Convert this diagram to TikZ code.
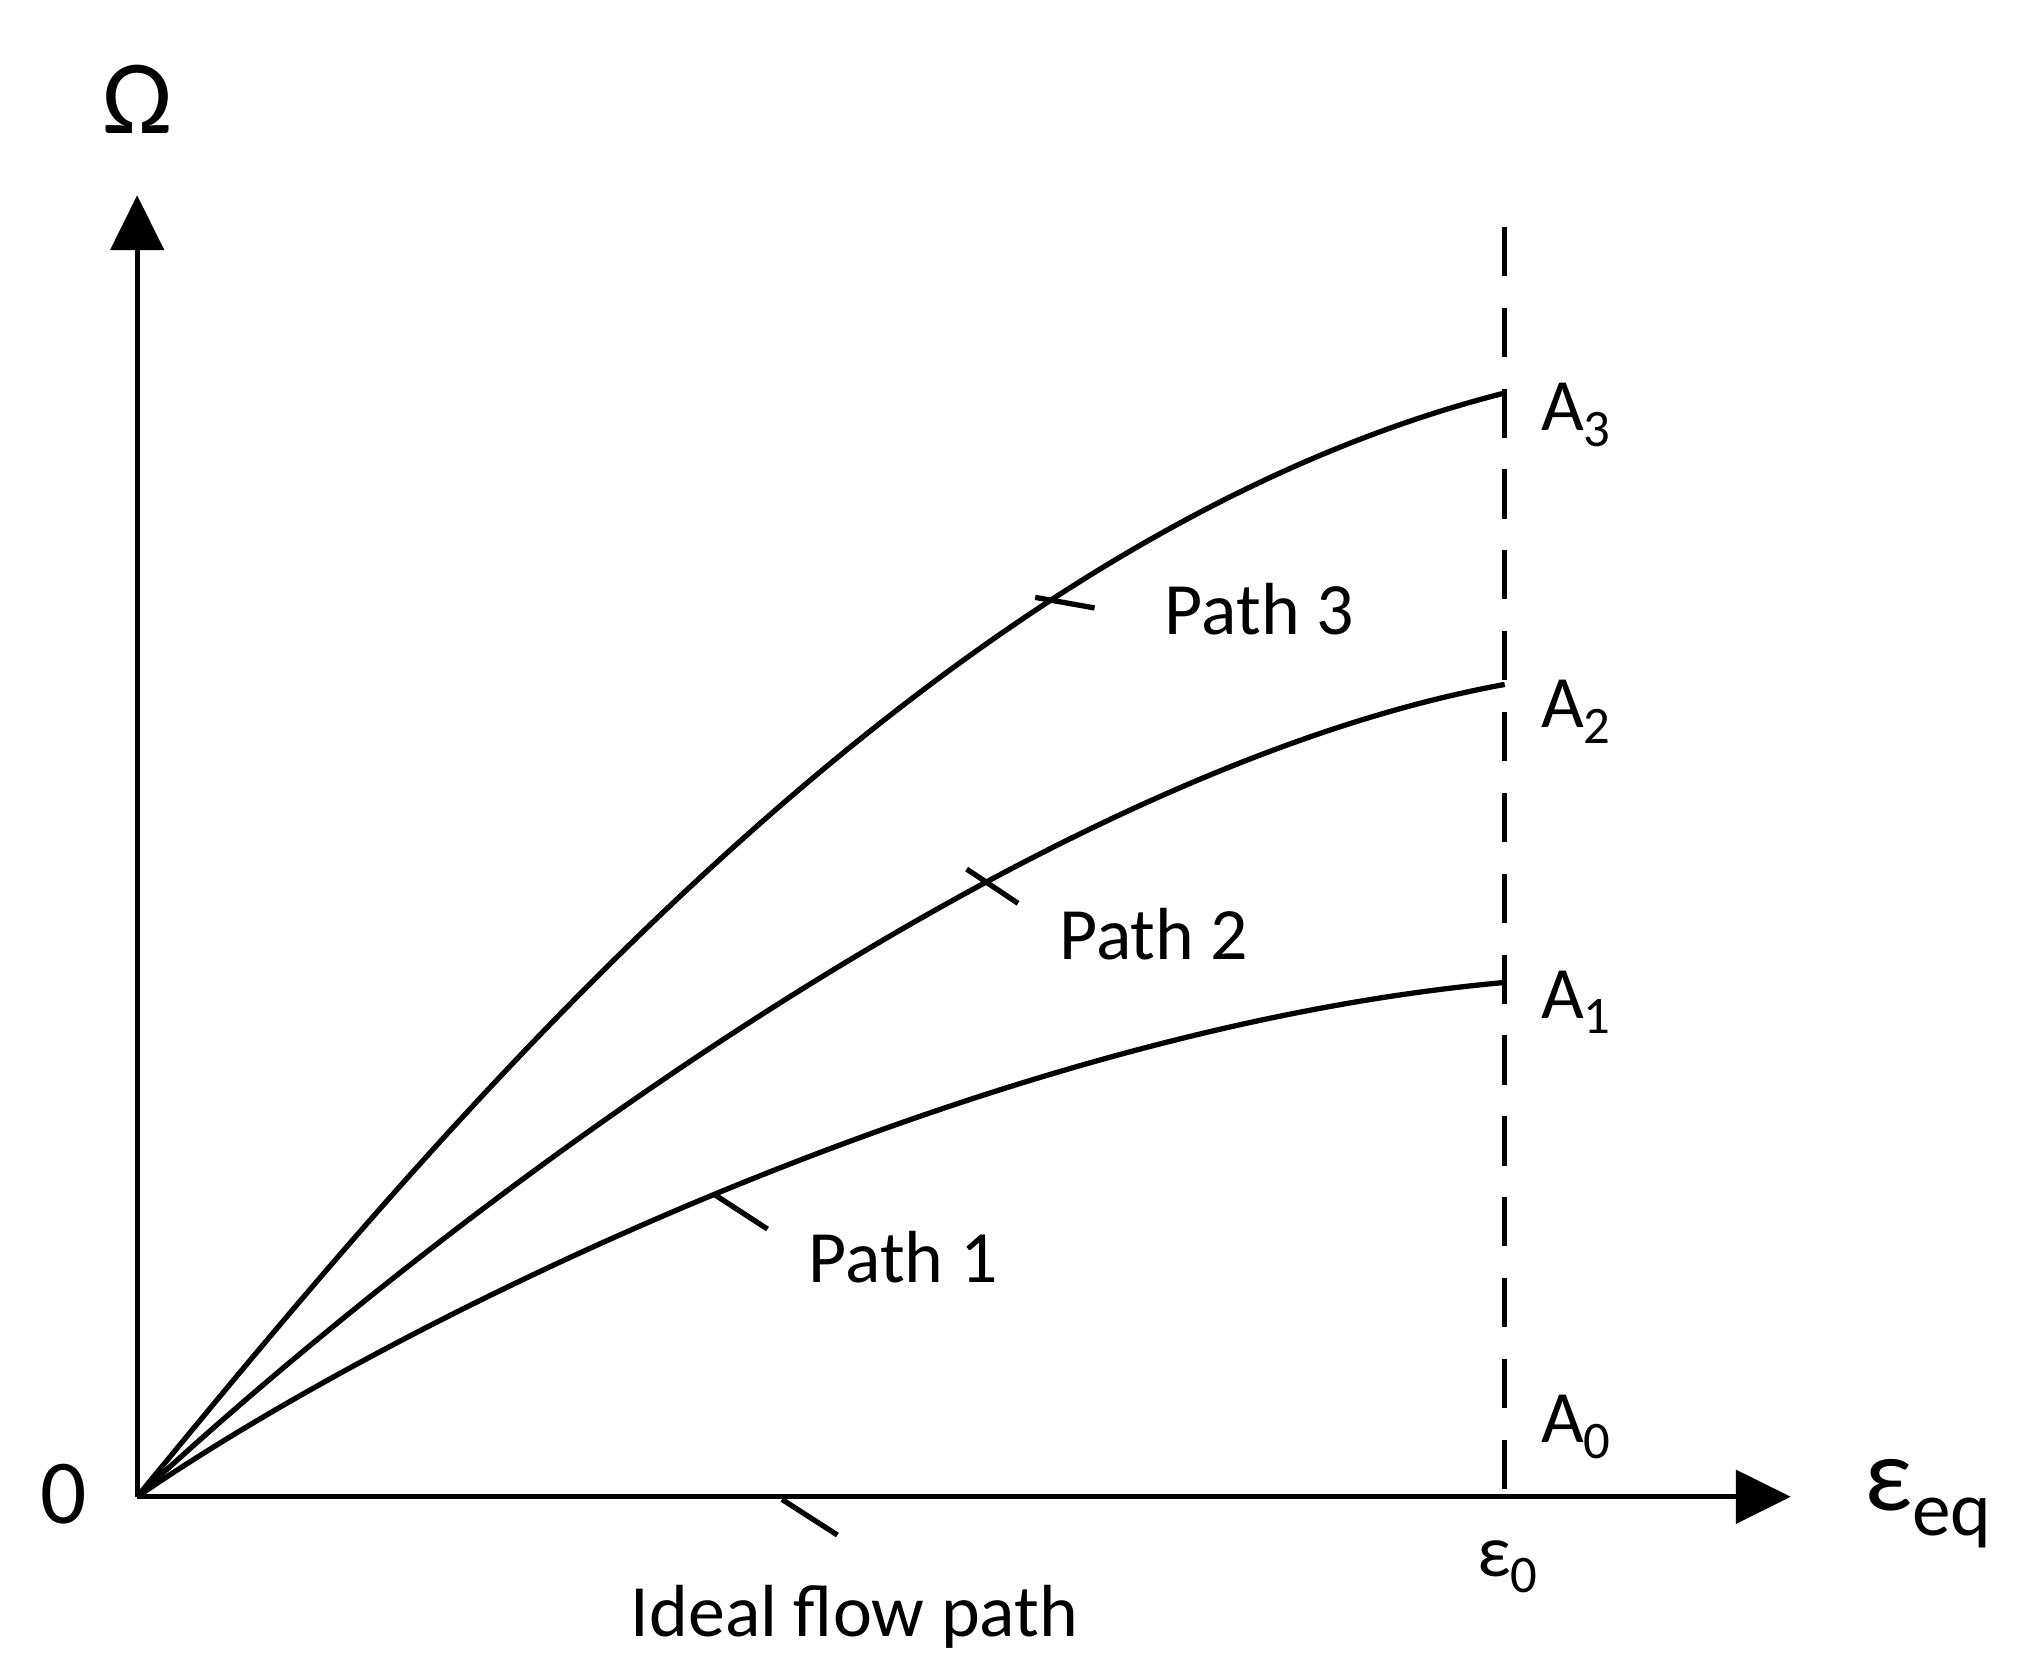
\documentclass[tikz,border=0pt]{standalone}
\usepackage{fontspec}
\setmainfont{Carlito}
\usetikzlibrary{arrows.meta,positioning}
\newcommand{\sub}[1]{\raisebox{-0.45ex}{\fontsize{15}{18}\selectfont #1}}
\begin{document}
\begin{tikzpicture}[x=0.01319cm,y=-0.01319cm,
    curve/.style={line width=1.5pt},
    axis/.style={line width=1.5pt,-{Triangle[length=0.55cm,width=0.53cm]}},
    lbl/.style={font=\fontsize{21}{25}\selectfont,inner sep=0pt}]
\useasboundingbox (0,0) rectangle (1550,1265);

\coordinate (O) at (104,1135);
\coordinate (ytop) at (104,148);
\coordinate (xend) at (1358,1135);
\coordinate (dtop) at (1141,172);
\coordinate (dbot) at (1141,1135);
\coordinate (A3) at (1141,298);
\coordinate (A2) at (1141,519);
\coordinate (A1) at (1141,745);

% axes
\draw[axis] (O) -- (ytop);
\draw[axis] (O) -- (xend);
\draw[line width=1.5pt,dash pattern=on 14pt off 9pt] (dtop) -- (dbot);

% paths
\draw[curve] (O) .. controls (330,860) and (700,410) .. (A3);
\draw[curve] (O) .. controls (330,925) and (780,585) .. (A2);
\draw[curve] (O) .. controls (300,1000) and (750,780) .. (A1);

% labels
\node[lbl,font=\fontsize{30}{34}\selectfont] (omega) at (104,75) {Ω};
\node[lbl,font=\fontsize{26}{30}\selectfont] (zero) at (48,1133) {0};
\node[lbl,font=\fontsize{30}{34}\selectfont] (eeq) at (1462,1140) {ε\raisebox{-0.5ex}{\fontsize{22}{26}\selectfont eq}};
\node[lbl] (e0) at (1143,1188) {ε\sub{0}};
\node[lbl] (a3) at (1195,315) {A\sub{3}};
\node[lbl] (a2) at (1195,540) {A\sub{2}};
\node[lbl] (a1) at (1195,760) {A\sub{1}};
\node[lbl] (a0) at (1195,1082) {A\sub{0}};
\node[lbl] (p3) at (955,462) {Path 3};
\node[lbl] (p2) at (875,708) {Path 2};
\node[lbl] (p1) at (685,953) {Path 1};
\node[lbl] (ideal) at (648,1226) {Ideal flow path};

% leader ticks
\draw[curve] (785,453) -- (830,461);
\draw[curve] (733,659) -- (772,685);
\draw[curve] (542,906) -- (582,932);
\draw[curve] (593,1137) -- (635,1164);
\end{tikzpicture}
\end{document}
